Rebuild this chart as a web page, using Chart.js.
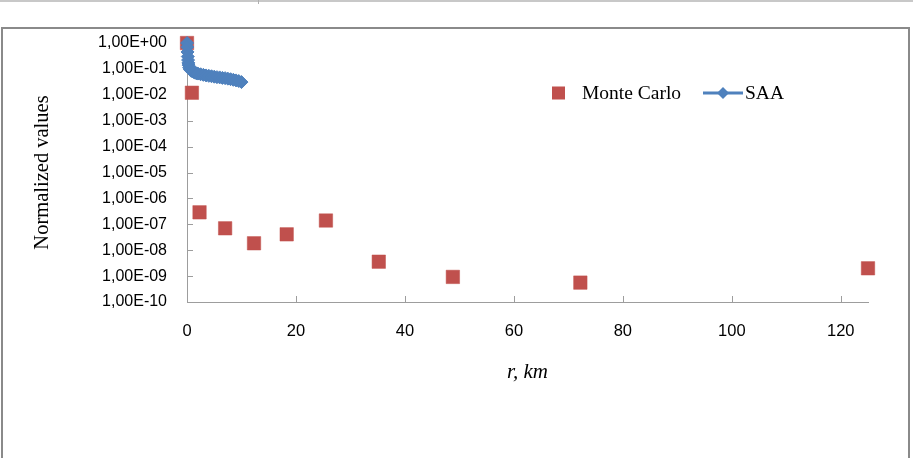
<!DOCTYPE html>
<html>
<head>
<meta charset="utf-8">
<title>Normalized values vs r</title>
<script src="https://cdn.jsdelivr.net/npm/chart.js@4.4.1/dist/chart.umd.min.js"></script>
<style>
  html, body { margin: 0; padding: 0; background: #fff; }
  #wrap { position: relative; width: 913px; height: 458px; }
</style>
</head>
<body>
<div id="wrap"><canvas id="chart"></canvas></div>
<script>
// Monte Carlo points (r in km -> normalized value)
const mcR = [0, 0.9, 2.3, 7.0, 12.3, 18.3, 25.5, 35.2, 48.8, 72.2, 125];
const mcValues = [1.0, 1.2e-2, 2.9e-7, 7.0e-8, 1.85e-8, 4.1e-8, 1.4e-7, 3.6e-9, 9.3e-10, 5.6e-10, 2.0e-9];

// SAA curve (dense, r from ~0 to 10 km)
const saaR = [0.02, 0.05, 0.1, 0.15, 0.2, 0.25, 0.3, 0.4, 0.5, 0.6, 0.8, 1.0, 1.25, 1.5, 1.75, 2.0,
  2.5, 3.0, 3.5, 4.0, 4.5, 5.0, 5.5, 6.0, 6.5, 7.0, 7.5, 8.0, 8.5, 9.0, 9.5, 10.0];
const saaValues = [1.0, 0.7, 0.45, 0.3, 0.22, 0.17, 0.14, 0.115, 0.1, 0.092, 0.085, 0.08, 0.075, 0.071, 0.068, 0.066,
  0.062, 0.059, 0.056, 0.054, 0.052, 0.05, 0.048, 0.047, 0.045, 0.044, 0.042, 0.04, 0.038, 0.036, 0.034, 0.031];

// Axis ticks
const xTicks = [0, 20, 40, 60, 80, 100, 120];
const yTicks = [1, 1e-1, 1e-2, 1e-3, 1e-4, 1e-5, 1e-6, 1e-7, 1e-8, 1e-9, 1e-10];
const yTickLabels = ['1,00E+00', '1,00E-01', '1,00E-02', '1,00E-03', '1,00E-04', '1,00E-05',
  '1,00E-06', '1,00E-07', '1,00E-08', '1,00E-09', '1,00E-10'];

const RED = '#C0504D';
const BLUE = '#4F81BD';
const AXIS = '#9d9d9d';
const SERIF = '"Liberation Serif", "Times New Roman", serif';
const SANS = '"Liberation Sans", Arial, sans-serif';

const toPoints = (xs, ys) => xs.map((x, i) => ({ x: x, y: ys[i] }));

// frame around the chart and the thin line at the top of the page
const framePlugin = {
  id: 'frame',
  beforeDraw(chart) {
    const ctx = chart.ctx;
    ctx.save();
    ctx.fillStyle = '#fff';
    ctx.fillRect(0, 0, chart.width, chart.height);
    ctx.fillStyle = '#c8c8c8';
    ctx.fillRect(0, 0, chart.width, 2);
    ctx.fillStyle = '#b0b0b0';
    ctx.fillRect(258, 0, 1, 4);
    ctx.strokeStyle = '#8a8a8a';
    ctx.lineWidth = 2;
    ctx.beginPath();
    ctx.moveTo(2, chart.height + 2);
    ctx.lineTo(2, 28);
    ctx.lineTo(909, 28);
    ctx.lineTo(909, chart.height + 2);
    ctx.stroke();
    ctx.restore();
  }
};

// tick marks pointing into the plot area
const innerTicks = {
  id: 'innerTicks',
  beforeDatasetsDraw(chart) {
    const { ctx, chartArea, scales: { x, y } } = chart;
    ctx.save();
    ctx.strokeStyle = AXIS;
    ctx.lineWidth = 1;
    ctx.beginPath();
    xTicks.forEach(v => {
      const px = Math.round(x.getPixelForValue(v)) + 0.5;
      ctx.moveTo(px, chartArea.bottom);
      ctx.lineTo(px, chartArea.bottom - 6);
    });
    yTicks.forEach(v => {
      const py = Math.round(y.getPixelForValue(v)) + 0.5;
      ctx.moveTo(chartArea.left, py);
      ctx.lineTo(chartArea.left + 6, py);
    });
    ctx.stroke();
    ctx.restore();
  }
};

// legend placed inside the plot, like the original
const legendPlugin = {
  id: 'insideLegend',
  afterDraw(chart) {
    const ctx = chart.ctx;
    const ds = chart.data.datasets;
    const cy = 93;
    ctx.save();
    ctx.font = '19.5px ' + SERIF;
    ctx.textBaseline = 'middle';

    ctx.fillStyle = RED;
    ctx.fillRect(552, cy - 6.5, 13, 13);
    ctx.fillStyle = '#000';
    ctx.fillText(ds[0].label, 582, cy + 1);

    ctx.strokeStyle = BLUE;
    ctx.lineWidth = 3;
    ctx.beginPath();
    ctx.moveTo(703, cy);
    ctx.lineTo(743, cy);
    ctx.stroke();
    ctx.fillStyle = BLUE;
    ctx.beginPath();
    ctx.moveTo(723, cy - 6);
    ctx.lineTo(729, cy);
    ctx.lineTo(723, cy + 6);
    ctx.lineTo(717, cy);
    ctx.closePath();
    ctx.fill();
    ctx.fillStyle = '#000';
    ctx.fillText(ds[1].label, 745, cy + 1);
    ctx.restore();
  }
};

new Chart(document.getElementById('chart'), {
  type: 'scatter',
  data: {
    datasets: [
      {
        label: 'Monte Carlo',
        data: toPoints(mcR, mcValues),
        order: 1,
        showLine: false,
        pointStyle: 'rect',
        pointRadius: 9.5,
        pointBorderWidth: 0.5,
        backgroundColor: RED,
        borderColor: RED,
        clip: false
      },
      {
        label: 'SAA',
        data: toPoints(saaR, saaValues),
        order: 0,
        showLine: true,
        borderWidth: 3,
        pointStyle: 'rectRot',
        pointRadius: 6.5,
        pointBorderWidth: 1,
        backgroundColor: BLUE,
        borderColor: BLUE,
        clip: false
      }
    ]
  },
  options: {
    responsive: true,
    maintainAspectRatio: false,
    animation: false,
    events: [],
    layout: { padding: { left: 0, top: 43, right: 45, bottom: 0 } },
    plugins: {
      legend: { display: false },
      tooltip: { enabled: false }
    },
    scales: {
      x: {
        type: 'linear',
        min: 0,
        max: 125,
        grid: { display: false, drawTicks: false },
        border: { display: true, color: AXIS, width: 1 },
        afterBuildTicks: scale => { scale.ticks = xTicks.map(v => ({ value: v })); },
        afterFit: scale => { scale.height = 156; },
        ticks: {
          padding: 20,
          color: '#000',
          maxRotation: 0,
          font: { family: SANS, size: 16.5 }
        },
        title: {
          display: true,
          text: 'r, km',
          color: '#000',
          padding: { top: 0, bottom: 73 },
          font: { family: SERIF, size: 21, style: 'italic' }
        }
      },
      y: {
        type: 'logarithmic',
        min: 1e-10,
        max: 1,
        grid: { display: false, drawTicks: false },
        border: { display: true, color: AXIS, width: 1 },
        afterBuildTicks: scale => { scale.ticks = yTicks.map(v => ({ value: v })); },
        afterFit: scale => { scale.width = 187; },
        ticks: {
          padding: 20,
          color: '#000',
          font: { family: SANS, size: 16 },
          callback: (value, index) => yTickLabels[index]
        },
        title: {
          display: true,
          text: 'Normalized values',
          color: '#000',
          padding: { top: 30, bottom: 0 },
          font: { family: SERIF, size: 20.5 }
        }
      }
    }
  },
  plugins: [framePlugin, innerTicks, legendPlugin]
});
</script>
</body>
</html>
